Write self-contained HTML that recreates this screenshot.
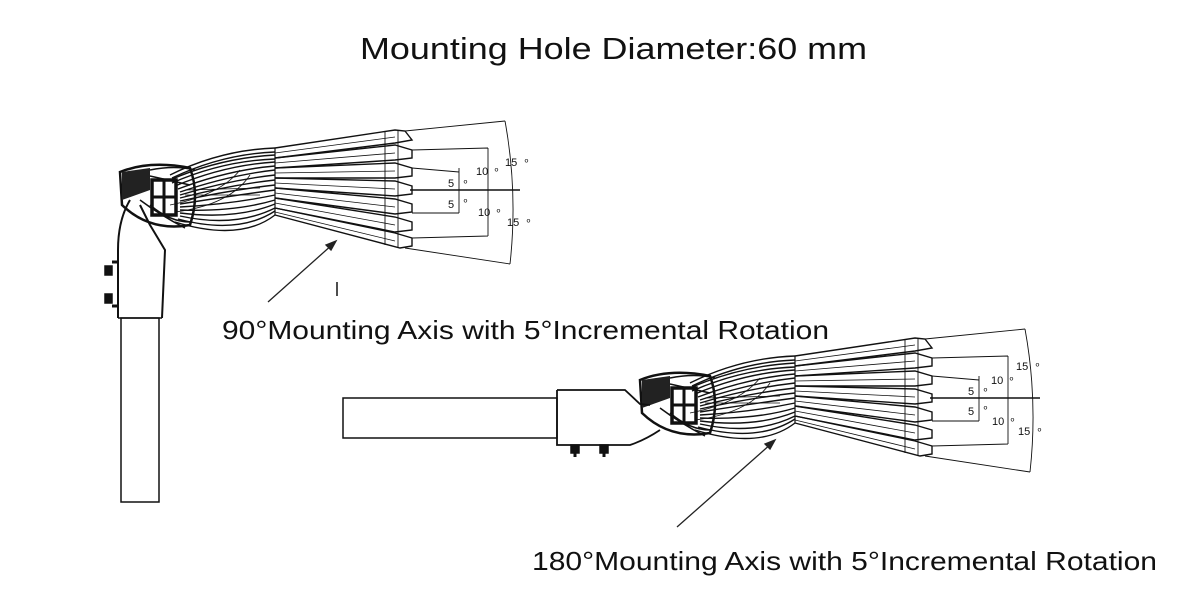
<!DOCTYPE html>
<html><head><meta charset="utf-8"><style>
html,body{margin:0;padding:0;background:#fff;}
svg{display:block;}
text{font-family:"Liberation Sans",sans-serif;fill:#111;}
.s{font-family:"Liberation Mono",monospace;font-size:11px;fill:#222;}
</style></head><body>
<svg width="1178" height="603" viewBox="0 0 1178 603" xmlns="http://www.w3.org/2000/svg">
<defs>
<g id="fx" fill="none" stroke="#111" stroke-width="1.2">
  <!-- hub -->
  <path d="M120 172 Q150 160 190 168 Q200 195 190 225 Q150 232 122 205 Z" fill="#fff" stroke-width="2.5"/>
  <path d="M122 172 L122 200 L150 190 L150 168 Z" fill="#222" stroke="none"/>
  <path d="M150 170 Q175 165 195 170 M150 176 L190 185 M150 205 Q170 222 190 222 M140 200 Q160 215 185 228" stroke-width="1.5"/>
  <rect x="152" y="180" width="24" height="35" stroke-width="3.5"/>
  <path d="M152 197 L176 197 M164 180 L164 215" stroke-width="3"/>
  <!-- body curves -->
  <g stroke-width="1.4">
  <path d="M170 175 Q220 150 275 148" />
  <path d="M172 178 Q222 154 275 152" />
  <path d="M170 180 Q220 158 275 155" />
  <path d="M172 183 Q222 161 275 159" />
  <path d="M175 186 Q225 165 275 162" />
  <path d="M178 189 Q228 170 275 166" />
  <path d="M180 192 Q230 175 275 170" />
  <path d="M180 195 Q230 180 275 175" />
  <path d="M180 198 Q230 185 275 180" />
  <path d="M180 201 Q230 190 275 185" />
  <path d="M180 204 Q230 196 275 190" />
  <path d="M180 207 Q232 204 275 195" />
  <path d="M180 210 Q235 212 275 200" />
  <path d="M180 213 Q235 220 275 204" />
  <path d="M180 216 Q235 228 275 208" />
  <path d="M178 219 Q238 235 275 211" />
  <path d="M175 222 Q240 242 275 215" />
  </g>
  <path d="M170 205 Q220 195 240 170 M175 212 Q230 205 250 175 M185 190 L260 188 M185 195 L260 195" stroke-width="0.8"/>
  <path d="M275 148 L275 215" />
  <!-- blades -->
  <g stroke-width="1.4">
  <path d="M275 148 L395 130 L405 131 L412 140 L395 143 L275 158" />
  <path d="M275 158 L395 145 L412 150 L412 158 L395 160 L275 168" />
  <path d="M275 168 L395 163 L412 168 L412 176 L395 178 L275 178" />
  <path d="M275 178 L395 181 L412 186 L412 194 L395 196 L275 188" />
  <path d="M275 188 L395 199 L412 204 L412 212 L395 214 L275 198" />
  <path d="M275 198 L395 217 L412 222 L412 230 L395 232 L275 208" />
  <path d="M275 208 L395 233 L412 238 L412 246 L400 248 L275 215" />
  <path d="M275 153 L395 137 M275 163 L395 153 M275 173 L395 171 M275 183 L395 189 M275 193 L395 207 M275 203 L395 225 M275 212 L395 241" stroke-width="0.8"/>
  </g>
  <path d="M385 132 L385 245 M398 131 L398 248" stroke-width="0.9"/>
  <!-- dims -->
  <path d="M405 131 L505 121 M405 248 L510 264" stroke-width="0.9"/>
  <path d="M505 121 Q518 192 510 264" stroke-width="0.9"/>
  <path d="M412 150 L488 148 M412 238 L488 236 M488 148 L488 236" stroke-width="0.9"/>
  <path d="M412 168 L459 172 M412 213 L459 213 M459 168 L459 213" stroke-width="0.9"/>
  <path d="M410 190 L520 190" stroke-width="1.5"/>
</g>
</defs>

<text x="360" y="59" font-size="31" textLength="507" lengthAdjust="spacingAndGlyphs">Mounting Hole Diameter:60 mm</text>

<use href="#fx"/>
<g class="s"><text x="448" y="187">5</text><text x="462" y="185">∘</text>
<text x="476" y="175">10</text><text x="493" y="173">∘</text>
<text x="505" y="166">15</text><text x="523" y="164">∘</text>
<text x="448" y="208">5</text><text x="462" y="204">∘</text>
<text x="478" y="216">10</text><text x="495" y="214">∘</text>
<text x="507" y="226">15</text><text x="525" y="224">∘</text></g>

<!-- vertical pole & bracket -->
<g fill="none" stroke="#111" stroke-width="1.5">
  <path d="M130 200 Q118 220 118 250 L118 318" stroke-width="2"/>
  <path d="M150 225 L165 250 L162 318 M140 205 L150 225" stroke-width="2"/>
  <rect x="121" y="318" width="38" height="184"/>
  <path d="M118 318 L162 318"/>
  <rect x="105" y="266" width="7" height="9" fill="#111"/>
  <rect x="105" y="294" width="7" height="9" fill="#111"/>
  <path d="M112 262 L118 262 M112 306 L118 306" stroke-width="3"/>
</g>

<use href="#fx" transform="translate(520,208)"/>
<g class="s"><text x="968" y="395">5</text><text x="982" y="393">∘</text>
<text x="991" y="384">10</text><text x="1008" y="382">∘</text>
<text x="1016" y="370">15</text><text x="1034" y="368">∘</text>
<text x="968" y="415">5</text><text x="982" y="411">∘</text>
<text x="992" y="425">10</text><text x="1009" y="423">∘</text>
<text x="1018" y="435">15</text><text x="1036" y="433">∘</text></g>

<!-- horizontal pole & bracket -->
<g fill="none" stroke="#111" stroke-width="1.5">
  <rect x="343" y="398" width="214" height="40"/>
  <path d="M557 390 L625 390 L640 404 L650 405 M557 390 L557 445 L630 445 Q645 440 660 430" stroke-width="1.8"/>
  <rect x="571" y="445" width="8" height="8" fill="#111"/>
  <rect x="600" y="445" width="8" height="8" fill="#111"/>
  <path d="M575 453 L575 457 M604 453 L604 457" stroke-width="3"/>
</g>

<!-- arrows -->
<g stroke="#222" stroke-width="1.3" fill="#222">
  <line x1="268" y1="302" x2="333" y2="244"/>
  <path d="M336 241 L326 245 L331 250 Z"/>
  <line x1="677" y1="527" x2="772" y2="443"/>
  <path d="M775 440 L765 444 L770 449 Z"/>
  <line x1="337" y1="282" x2="337" y2="296" stroke-width="1.6"/>
</g>

<text x="222" y="339" font-size="26" textLength="607" lengthAdjust="spacingAndGlyphs">90°Mounting Axis with 5°Incremental Rotation</text>
<text x="532" y="570" font-size="26" textLength="625" lengthAdjust="spacingAndGlyphs">180°Mounting Axis with 5°Incremental Rotation</text>
</svg>
</body></html>
